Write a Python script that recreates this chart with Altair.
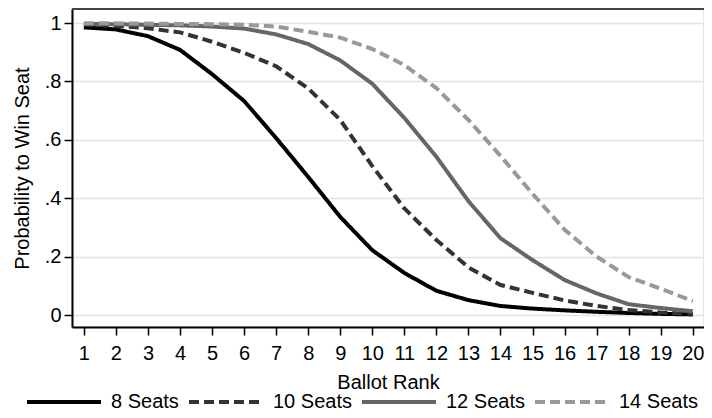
import altair as alt
import pandas as pd

ranks = list(range(1, 21))
series_names = ["8 Seats", "10 Seats", "12 Seats", "14 Seats"]
s8 = [0.985, 0.978, 0.955, 0.908, 0.825, 0.733, 0.606, 0.473, 0.336, 0.222,
      0.144, 0.083, 0.051, 0.031, 0.022, 0.016, 0.011, 0.007, 0.004, 0.002]
s10 = [0.995, 0.990, 0.982, 0.968, 0.936, 0.898, 0.852, 0.776, 0.668, 0.510,
       0.365, 0.257, 0.163, 0.103, 0.076, 0.050, 0.031, 0.017, 0.009, 0.004]
s12 = [0.997, 0.996, 0.994, 0.992, 0.988, 0.981, 0.961, 0.928, 0.872, 0.792,
       0.675, 0.542, 0.390, 0.263, 0.188, 0.120, 0.074, 0.037, 0.024, 0.013]
s14 = [0.999, 0.999, 0.998, 0.997, 0.996, 0.994, 0.988, 0.970, 0.950, 0.911,
       0.856, 0.777, 0.668, 0.545, 0.415, 0.292, 0.200, 0.130, 0.090, 0.048]
y_ticks = [0, 0.2, 0.4, 0.6, 0.8, 1]

rows = []
for name, vals in zip(series_names, [s8, s10, s12, s14]):
    for r, v in zip(ranks, vals):
        rows.append({"rank": r, "prob": v, "series": name})
df = pd.DataFrame(rows)

FONT = "Liberation Sans"
W, H = 632, 318

legend = alt.Legend(orient="none", direction="horizontal", columns=4,
                    legendX=-47, legendY=354, symbolType="stroke",
                    symbolSize=74 * 74, symbolStrokeWidth=4,
                    labelFontSize=20, labelFont=FONT, labelColor="#000",
                    labelOffset=8, columnPadding=2, labelLimit=200,
                    padding=0)

lines = alt.Chart(df).mark_line(strokeWidth=4, strokeCap="butt", strokeJoin="round").encode(
    x=alt.X("rank:Q", title="Ballot Rank",
            scale=alt.Scale(domain=[0.63, 20.35], nice=False, zero=False),
            axis=alt.Axis(values=ranks, grid=False, tickSize=8, labelPadding=8,
                          titlePadding=9, domainWidth=2, tickWidth=1.5,
                          domainColor="#000", tickColor="#000", labelFlush=False)),
    y=alt.Y("prob:Q", title="Probability to Win Seat",
            scale=alt.Scale(domain=[-0.041, 1.048], nice=False, zero=False),
            axis=alt.Axis(values=y_ticks, grid=True, gridColor="#e2e2e2", gridWidth=1.5,
                          tickSize=8, labelPadding=3, titlePadding=12,
                          domainWidth=2, tickWidth=1.5, domainColor="#000", tickColor="#000",
                          labelExpr="datum.value > 0 && datum.value < 1 ? replace(format(datum.value, '.1f'), '0.', '.') : format(datum.value, 'd')")),
    color=alt.Color("series:N", sort=series_names, title=None,
                    scale=alt.Scale(domain=series_names,
                                    range=["#000000", "#333333", "#666666", "#999999"]),
                    legend=legend),
    strokeDash=alt.StrokeDash("series:N", sort=series_names, title=None,
                              scale=alt.Scale(domain=series_names,
                                              range=[[1, 0], [10, 5], [1, 0], [10, 5]]),
                              legend=legend),
)

top_border = alt.Chart(df).mark_rule(color="#444444", strokeWidth=2).encode(
    x=alt.value(0), x2=alt.value(W), y=alt.value(0)
)

chart = alt.layer(lines, top_border).properties(
    width=W, height=H,
    autosize=alt.AutoSizeParams(type="none"),
    padding={"left": 64, "top": 1, "right": 0, "bottom": 90},
).configure_view(
    stroke="#dddddd", strokeWidth=1.5
).configure_axis(
    labelFont=FONT, titleFont=FONT, labelFontSize=20, titleFontSize=20,
    labelColor="#000", titleColor="#000", titleFontWeight="normal"
)

chart.save("out.html", embed_options={"renderer": "svg", "actions": False})
